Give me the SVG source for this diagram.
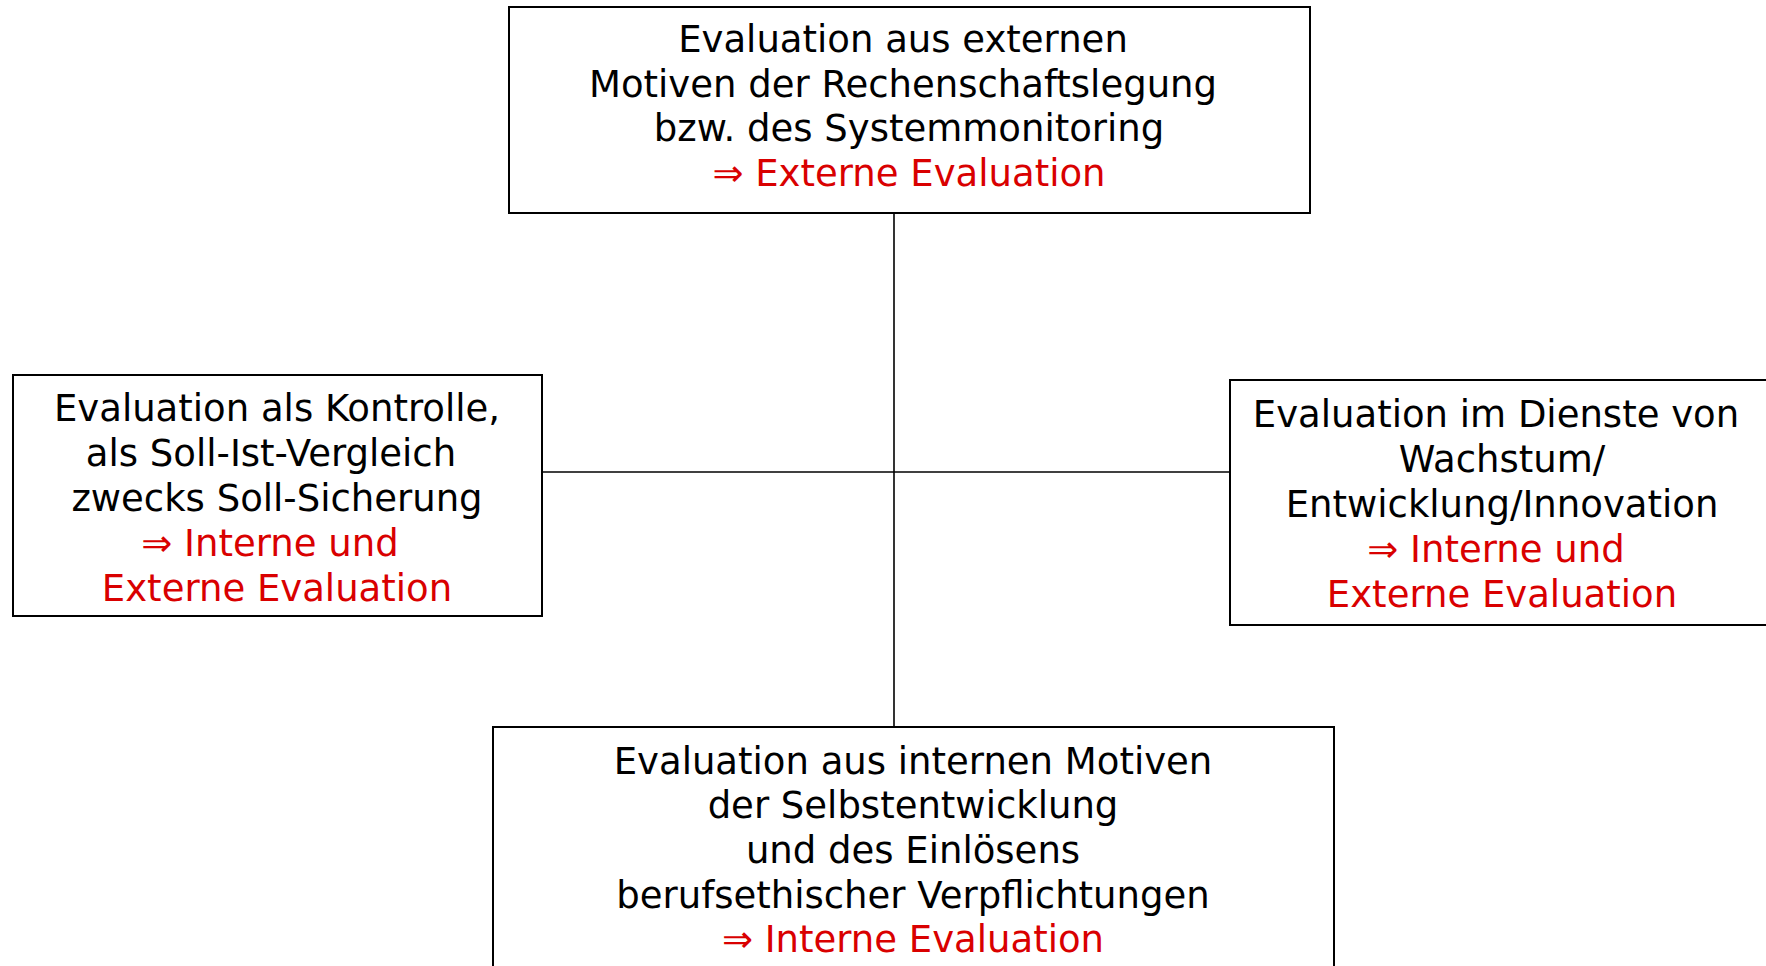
<svg xmlns="http://www.w3.org/2000/svg" width="1766" height="966" viewBox="0 0 1766 966">
<style>
.box{fill:#fff;stroke:#000;stroke-width:2}
.t{font-family:"DejaVu Sans",Verdana,sans-serif;font-size:37px;fill:#000;text-anchor:middle}
.r{fill:#d90000}
.c{stroke:#000;stroke-width:1.6;fill:none}
</style>
<rect width="1766" height="966" fill="#fff"/>
<g id="connectors">
<line class="c" x1="894" y1="213" x2="894" y2="727"/>
<line class="c" x1="542" y1="472" x2="1230" y2="472"/>
</g>
<g id="top">
<rect class="box" x="509" y="7" width="801" height="206"/>
<text class="t" x="903" y="52">Evaluation aus externen</text>
<text class="t" x="903" y="97">Motiven der Rechenschaftslegung</text>
<text class="t" x="909" y="141">bzw. des Systemmonitoring</text>
<text class="t r" x="909" y="186">⇒ Externe Evaluation</text>
</g>
<g id="left">
<rect class="box" x="13" y="375" width="529" height="241"/>
<text class="t" x="277" y="421">Evaluation als Kontrolle,</text>
<text class="t" x="271" y="466">als Soll-Ist-Vergleich</text>
<text class="t" x="277" y="511">zwecks Soll-Sicherung</text>
<text class="t r" x="270" y="556">⇒ Interne und</text>
<text class="t r" x="277" y="601">Externe Evaluation</text>
</g>
<g id="right">
<rect class="box" x="1230" y="380" width="545" height="245"/>
<text class="t" x="1496" y="427">Evaluation im Dienste von</text>
<text class="t" x="1502" y="472">Wachstum/</text>
<text class="t" x="1502" y="517">Entwicklung/Innovation</text>
<text class="t r" x="1496" y="562">⇒ Interne und</text>
<text class="t r" x="1502" y="607">Externe Evaluation</text>
</g>
<g id="bottom">
<rect class="box" x="493" y="727" width="841" height="260"/>
<text class="t" x="913" y="774">Evaluation aus internen Motiven</text>
<text class="t" x="913" y="818">der Selbstentwicklung</text>
<text class="t" x="913" y="863">und des Einlösens</text>
<text class="t" x="913" y="908">berufsethischer Verpflichtungen</text>
<text class="t r" x="913" y="952">⇒ Interne Evaluation</text>
</g>
</svg>
